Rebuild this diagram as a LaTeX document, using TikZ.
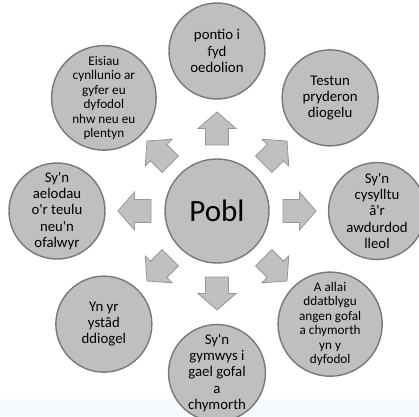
\documentclass[tikz,border=0pt]{standalone}
\usepackage{fontspec}
\setmainfont{Carlito}[Ligatures=TeXOff]
\definecolor{bubblegray}{RGB}{191,191,191}
\definecolor{ringgray}{RGB}{120,120,120}
\definecolor{arrowgray}{RGB}{192,192,192}
\definecolor{arrowedge}{RGB}{150,150,150}
\definecolor{paleband}{RGB}{246,252,254}
\begin{document}
\begin{tikzpicture}[x=1pt,y=1pt,
  bubble/.style={circle, draw=ringgray, fill=bubblegray, line width=1.4pt,
    minimum size=96pt, inner sep=0pt, align=center, text=black},
  hub/.style={bubble, minimum size=104pt, font=\fontsize{31}{34}\selectfont},
  txtA/.style={font=\fontsize{14.8}{16.3}\selectfont},
  txtB/.style={font=\fontsize{13.2}{14.5}\selectfont},
  blockarrow/.style={draw=arrowedge, fill=arrowgray, line width=0.8pt, line join=miter}]
\useasboundingbox (0,0) rectangle (419,416);
\clip (0,0) rectangle (419,416);
% pale strip along the lower edge
\fill[paleband] (0,0) rectangle (419,17);

% central hub
\node[hub] (hub) at (217,205) {Pobl};

% block arrows pointing outwards from the hub
\foreach \a in {0,45,...,315}{
  \begin{scope}[shift={(hub.center)}, rotate=\a]
    \draw[blockarrow] (66,-11.5) -- (82.5,-11.5) -- (82.5,-19) -- (99,0)
      -- (82.5,19) -- (82.5,11.5) -- (66,11.5) -- cycle;
  \end{scope}
}

% surrounding bubbles
\node[bubble, txtA] (n) at ([shift={(90:160)}]hub.center) {pontio i\\fyd\\oedolion};
\node[bubble, txtA] (ne) at ([shift={(45:160)}]hub.center) {Testun\\pryderon\\diogelu};
\node[bubble, txtA] (e) at ([shift={(0:160)}]hub.center) {Sy'n\\cysylltu\\â'r\\awdurdod\\lleol};
\node[bubble, txtB] (se) at ([shift={(-45:160)}]hub.center) {A allai\\ddatblygu\\angen gofal\\a chymorth\\yn y\\dyfodol};
\node[bubble, txtA] (s) at ([shift={(-90:162)}]hub.center) {Sy'n\\gymwys i\\gael gofal\\a\\chymorth};
\node[bubble, txtA] (sw) at ([shift={(-135:160)}]hub.center) {Yn yr\\ystâd\\ddiogel};
\node[bubble, txtA] (w) at ([shift={(180:160)}]hub.center) {Sy'n\\aelodau\\o'r teulu\\neu'n\\ofalwyr};
\node[bubble, txtB] (nw) at ([shift={(135:160)}]hub.center) {Eisiau\\cynllunio ar\\gyfer eu\\dyfodol\\nhw neu eu\\plentyn};
\end{tikzpicture}
\end{document}
